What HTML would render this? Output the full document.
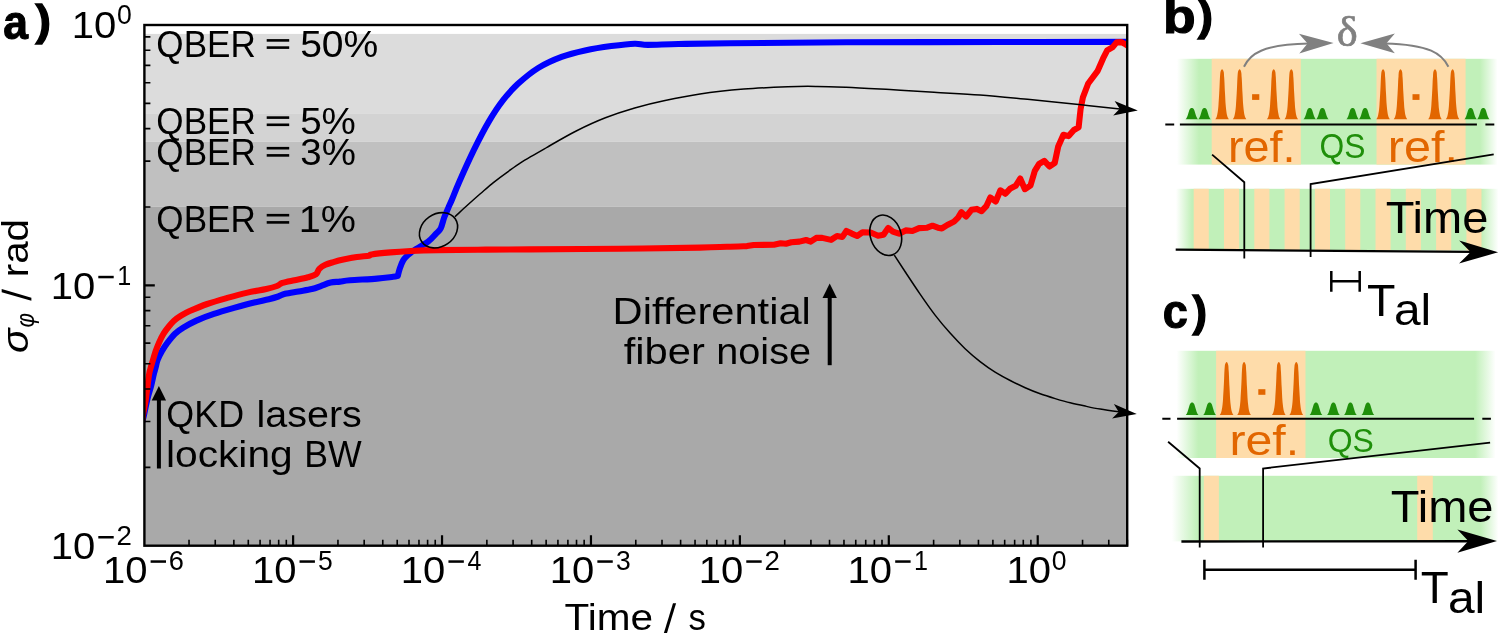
<!DOCTYPE html>
<html><head><meta charset="utf-8"><title>figure</title>
<style>html,body{margin:0;padding:0;background:#fff;overflow:hidden}svg{display:block}text{white-space:pre}</style></head>
<body>
<svg width="1500" height="633" viewBox="0 0 1500 633" style="will-change:transform">
<defs>
<clipPath id="ax"><rect x="144.40" y="25.00" width="982.80" height="520.70"/></clipPath>
</defs>
<rect width="1500" height="633" fill="#fff"/>
<rect x="144.4" y="33.9" width="982.80" height="79.40" fill="#dcdcdc"/>
<rect x="144.4" y="113.3" width="982.80" height="28.40" fill="#d3d3d3"/>
<rect x="144.4" y="141.7" width="982.80" height="65.10" fill="#c0c0c0"/>
<rect x="144.4" y="206.8" width="982.80" height="338.90" fill="#a9a9a9"/>
<g clip-path="url(#ax)" fill="none" stroke-linejoin="round">
<path d="M141.5,425.0 C141.9,423.2 143.1,418.9 144.1,414.5 C145.1,410.1 146.3,403.4 147.5,398.7 C148.7,393.9 150.1,389.9 151.1,386.0 C152.1,382.1 152.9,377.9 153.6,375.0 C154.3,372.1 154.7,371.0 155.4,368.5 C156.1,366.0 156.5,362.9 157.6,360.0 C158.7,357.1 160.2,354.0 161.9,351.1 C163.6,348.2 165.5,345.3 167.7,342.4 C169.9,339.5 172.4,336.2 175.0,333.7 C177.6,331.2 179.7,329.8 183.3,327.6 C186.9,325.4 191.3,322.9 196.4,320.6 C201.5,318.3 207.6,316.0 213.9,313.9 C220.2,311.8 227.3,309.8 234.0,307.9 C240.7,306.0 248.4,303.9 254.2,302.5 C260.0,301.1 264.9,300.2 268.9,299.2 C272.9,298.2 275.6,297.4 278.3,296.5 C281.0,295.6 281.7,294.7 285.1,293.8 C288.5,292.9 294.0,292.2 298.5,291.4 C303.0,290.6 308.1,289.9 311.9,289.0 C315.7,288.1 318.2,286.9 321.3,285.8 C324.4,284.7 327.6,283.3 330.7,282.6 C333.8,281.9 336.8,282.0 340.0,281.6 C343.2,281.2 343.9,280.8 350.1,280.3 C356.3,279.8 369.8,279.2 377.0,278.6 C384.2,278.0 389.6,277.2 393.1,276.8 C396.6,276.4 397.0,276.0 397.8,275.9 L397.8,275.9 C398.1,274.7 398.9,271.1 399.8,268.5 C400.7,265.9 401.9,262.6 403.2,260.4 C404.5,258.2 405.8,257.0 407.9,255.1 C410.0,253.2 412.6,251.2 416.0,249.0 C419.4,246.8 424.8,244.2 428.1,241.6 C431.5,239.0 434.0,235.8 436.1,233.6 C438.2,231.4 439.5,230.9 440.8,228.2 C442.1,225.5 443.0,220.8 444.2,217.5 C445.4,214.2 446.9,211.2 448.2,208.1 C449.5,205.0 450.4,203.3 452.2,199.0 C454.0,194.7 455.6,190.2 459.2,182.0 C462.8,173.8 469.0,159.9 473.9,149.9 C478.8,139.9 483.6,130.4 488.5,122.1 C493.4,113.8 498.2,106.5 503.1,100.2 C508.0,93.9 511.9,89.5 517.7,84.1 C523.6,78.7 530.9,72.5 538.2,68.0 C545.5,63.5 553.8,59.8 561.6,56.9 C569.4,54.0 576.7,52.3 585.0,50.5 C593.3,48.7 603.0,47.2 611.3,46.1 C619.6,45.0 628.6,43.9 634.7,43.7 C640.8,43.5 640.5,44.9 647.8,44.9 C655.1,44.9 664.8,44.3 678.5,44.0 C692.2,43.7 702.1,43.5 730.0,43.2 C757.9,42.9 801.0,42.5 846.0,42.3 C891.0,42.1 953.0,42.1 1000.0,42.0 C1047.0,41.9 1106.7,41.9 1128.0,41.9" stroke="#0000ff" stroke-width="6.1"/>
<path d="M141.8,425.0 C142.0,423.2 142.4,418.9 143.1,414.5 C143.8,410.1 144.9,405.3 145.9,398.7 C146.9,392.1 148.2,380.0 149.0,375.0 C149.8,370.0 149.8,371.0 150.5,368.5 C151.2,366.0 152.1,362.7 153.0,359.8 C153.9,356.9 154.7,354.0 155.7,351.1 C156.7,348.2 157.8,345.3 159.1,342.4 C160.4,339.5 162.0,336.3 163.6,333.7 C165.2,331.1 166.7,329.1 168.4,327.0 C170.1,324.9 171.9,322.7 174.0,320.8 C176.1,318.9 178.4,317.2 181.0,315.6 C183.6,314.0 185.3,312.9 189.7,311.0 C194.1,309.1 200.9,306.2 207.2,304.0 C213.5,301.8 220.6,299.8 227.3,297.9 C234.0,296.0 241.0,294.1 247.5,292.6 C254.0,291.1 261.4,290.1 266.3,289.0 C271.2,287.9 274.3,287.0 277.0,286.0 C279.7,285.0 279.5,283.9 282.4,282.9 C285.3,281.9 290.2,281.1 294.5,280.2 C298.8,279.3 304.3,278.3 307.9,277.3 C311.5,276.3 314.1,275.7 316.0,274.3 C317.9,272.9 317.7,270.4 319.3,268.8 C320.9,267.2 323.0,265.9 325.4,264.8 C327.8,263.7 330.4,263.0 333.4,262.1 C336.4,261.2 339.5,260.3 343.4,259.5 C347.3,258.7 352.6,257.7 356.9,257.1 C361.2,256.5 366.6,256.1 369.0,255.7 C371.4,255.2 368.0,254.9 371.6,254.4 C375.2,253.9 383.9,253.0 390.4,252.4 C396.9,251.8 402.8,251.4 410.6,251.0 C418.5,250.6 426.3,250.3 437.5,250.1 C448.7,249.9 462.3,249.8 477.7,249.7 C493.1,249.6 506.3,249.6 530.0,249.4 C553.7,249.2 591.7,249.0 620.0,248.7 C648.3,248.4 682.2,247.9 700.0,247.6 C717.8,247.3 719.1,246.9 726.9,246.7 C734.7,246.4 743.6,246.2 747.0,246.1 L753.7,245.0 L773.9,244.7 L780.6,243.3 L786.0,243.7 L791.3,242.3 L799.4,241.6 L806.1,240.0 L810.8,241.6 L816.2,237.9 L822.2,237.9 L831.0,239.9 L837.0,236.0 L842.4,236.9 L846.4,230.9 L851.8,233.6 L857.2,236.0 L862.5,232.2 L870.6,232.5 L878.1,235.7 L883.5,234.8 L888.2,227.9 L892.9,231.7 L899.0,233.7 L905.7,230.4 L912.4,231.0 L919.1,228.1 L927.2,227.7 L932.5,225.7 L937.9,227.7 L941.9,228.4 L947.3,225.0 L954.0,221.6 L958.1,217.6 L961.4,212.2 L966.1,216.5 L971.5,209.8 L976.9,208.9 L981.6,211.2 L986.3,206.2 L990.3,197.5 L995.7,201.5 L1000.4,190.3 L1005.4,193.8 L1010.4,188.4 L1015.7,185.8 L1020.2,178.5 L1024.9,189.2 L1030.5,185.5 L1034.8,170.8 L1039.1,163.9 L1044.3,160.9 L1049.5,166.5 L1054.7,163.0 L1058.2,146.5 L1063.4,134.8 L1068.6,136.1 L1073.9,130.0 L1078.6,127.4 L1080.6,109.0 L1082.9,97.4 L1088.2,83.5 L1097.7,70.8 L1103.2,58.2 L1107.2,50.3 L1112.7,47.1 L1116.6,42.4 L1121.4,42.1 L1126.1,44.7 L1128.0,46.0" stroke="#ff0000" stroke-width="6.1"/>
</g>
<path d="M293.12,545.7 v-10.4 M442.04,545.7 v-10.4 M590.96,545.7 v-10.4 M739.88,545.7 v-10.4 M888.80,545.7 v-10.4 M1037.72,545.7 v-10.4 M144.4,285.35 h10.4" stroke="#000" stroke-width="2.2" fill="none"/>
<path d="M189.03,545.7 v-6 M215.25,545.7 v-6 M233.86,545.7 v-6 M248.29,545.7 v-6 M260.08,545.7 v-6 M270.05,545.7 v-6 M278.69,545.7 v-6 M286.31,545.7 v-6 M337.95,545.7 v-6 M364.17,545.7 v-6 M382.78,545.7 v-6 M397.21,545.7 v-6 M409.00,545.7 v-6 M418.97,545.7 v-6 M427.61,545.7 v-6 M435.23,545.7 v-6 M486.87,545.7 v-6 M513.09,545.7 v-6 M531.70,545.7 v-6 M546.13,545.7 v-6 M557.92,545.7 v-6 M567.89,545.7 v-6 M576.53,545.7 v-6 M584.15,545.7 v-6 M635.79,545.7 v-6 M662.01,545.7 v-6 M680.62,545.7 v-6 M695.05,545.7 v-6 M706.84,545.7 v-6 M716.81,545.7 v-6 M725.45,545.7 v-6 M733.07,545.7 v-6 M784.71,545.7 v-6 M810.93,545.7 v-6 M829.54,545.7 v-6 M843.97,545.7 v-6 M855.76,545.7 v-6 M865.73,545.7 v-6 M874.37,545.7 v-6 M881.99,545.7 v-6 M933.63,545.7 v-6 M959.85,545.7 v-6 M978.46,545.7 v-6 M992.89,545.7 v-6 M1004.68,545.7 v-6 M1014.65,545.7 v-6 M1023.29,545.7 v-6 M1030.91,545.7 v-6 M1082.55,545.7 v-6 M1108.77,545.7 v-6 M1127.38,545.7 v-6 M144.4,467.33 h6 M144.4,421.48 h6 M144.4,388.95 h6 M144.4,363.72 h6 M144.4,343.11 h6 M144.4,325.68 h6 M144.4,310.58 h6 M144.4,297.26 h6 M144.4,206.98 h6 M144.4,161.13 h6 M144.4,128.60 h6 M144.4,103.37 h6 M144.4,82.76 h6 M144.4,65.33 h6 M144.4,50.23 h6 M144.4,36.91 h6" stroke="#000" stroke-width="1.6" fill="none"/>
<rect x="144.4" y="25.0" width="982.80" height="520.70" fill="none" stroke="#000" stroke-width="2.4"/>
<text transform="translate(71.70,38.00) scale(1.0582,1.0000)" font-family='"Liberation Sans", sans-serif' font-size="37.8" font-weight="normal" font-style="normal" fill="#000" >10</text>
<text transform="translate(116.94,24.30) scale(0.9705,1.0000)" font-family='"Liberation Sans", sans-serif' font-size="27.404999999999998" font-weight="normal" font-style="normal" fill="#000" >0</text>
<text transform="translate(50.70,298.80) scale(1.0582,1.0000)" font-family='"Liberation Sans", sans-serif' font-size="37.8" font-weight="normal" font-style="normal" fill="#000" >10</text>
<rect x="98.30" y="275.80" width="15.4" height="2.5" fill="#000"/>
<text transform="translate(117.21,285.10) scale(0.9196,1.0000)" font-family='"Liberation Sans", sans-serif' font-size="27.404999999999998" font-weight="normal" font-style="normal" fill="#000" >1</text>
<text transform="translate(50.70,559.00) scale(1.0582,1.0000)" font-family='"Liberation Sans", sans-serif' font-size="37.8" font-weight="normal" font-style="normal" fill="#000" >10</text>
<rect x="98.30" y="536.00" width="15.4" height="2.5" fill="#000"/>
<text transform="translate(116.52,545.30) scale(1.0105,1.0000)" font-family='"Liberation Sans", sans-serif' font-size="27.404999999999998" font-weight="normal" font-style="normal" fill="#000" >2</text>
<text transform="translate(103.00,583.30) scale(1.0582,1.0000)" font-family='"Liberation Sans", sans-serif' font-size="37.8" font-weight="normal" font-style="normal" fill="#000" >10</text>
<rect x="150.60" y="560.30" width="15.4" height="2.5" fill="#000"/>
<text transform="translate(168.84,569.60) scale(0.9941,1.0000)" font-family='"Liberation Sans", sans-serif' font-size="27.404999999999998" font-weight="normal" font-style="normal" fill="#000" >6</text>
<text transform="translate(251.92,583.30) scale(1.0582,1.0000)" font-family='"Liberation Sans", sans-serif' font-size="37.8" font-weight="normal" font-style="normal" fill="#000" >10</text>
<rect x="299.52" y="560.30" width="15.4" height="2.5" fill="#000"/>
<text transform="translate(318.06,569.60) scale(0.9679,1.0000)" font-family='"Liberation Sans", sans-serif' font-size="27.404999999999998" font-weight="normal" font-style="normal" fill="#000" >5</text>
<text transform="translate(400.84,583.30) scale(1.0582,1.0000)" font-family='"Liberation Sans", sans-serif' font-size="37.8" font-weight="normal" font-style="normal" fill="#000" >10</text>
<rect x="448.44" y="560.30" width="15.4" height="2.5" fill="#000"/>
<text transform="translate(467.48,569.60) scale(0.9104,1.0000)" font-family='"Liberation Sans", sans-serif' font-size="27.404999999999998" font-weight="normal" font-style="normal" fill="#000" >4</text>
<text transform="translate(549.76,583.30) scale(1.0582,1.0000)" font-family='"Liberation Sans", sans-serif' font-size="37.8" font-weight="normal" font-style="normal" fill="#000" >10</text>
<rect x="597.36" y="560.30" width="15.4" height="2.5" fill="#000"/>
<text transform="translate(615.97,569.60) scale(0.9679,1.0000)" font-family='"Liberation Sans", sans-serif' font-size="27.404999999999998" font-weight="normal" font-style="normal" fill="#000" >3</text>
<text transform="translate(698.68,583.30) scale(1.0582,1.0000)" font-family='"Liberation Sans", sans-serif' font-size="37.8" font-weight="normal" font-style="normal" fill="#000" >10</text>
<rect x="746.28" y="560.30" width="15.4" height="2.5" fill="#000"/>
<text transform="translate(764.50,569.60) scale(1.0105,1.0000)" font-family='"Liberation Sans", sans-serif' font-size="27.404999999999998" font-weight="normal" font-style="normal" fill="#000" >2</text>
<text transform="translate(847.60,583.30) scale(1.0582,1.0000)" font-family='"Liberation Sans", sans-serif' font-size="37.8" font-weight="normal" font-style="normal" fill="#000" >10</text>
<rect x="895.20" y="560.30" width="15.4" height="2.5" fill="#000"/>
<text transform="translate(914.11,569.60) scale(0.9196,1.0000)" font-family='"Liberation Sans", sans-serif' font-size="27.404999999999998" font-weight="normal" font-style="normal" fill="#000" >1</text>
<text transform="translate(1006.52,583.30) scale(1.0582,1.0000)" font-family='"Liberation Sans", sans-serif' font-size="37.8" font-weight="normal" font-style="normal" fill="#000" >10</text>
<text transform="translate(1051.76,569.60) scale(0.9705,1.0000)" font-family='"Liberation Sans", sans-serif' font-size="27.404999999999998" font-weight="normal" font-style="normal" fill="#000" >0</text>
<text transform="translate(564.39,629.60) scale(1.0732,1.0000)" font-family='"Liberation Sans", sans-serif' font-size="37.8" font-weight="normal" font-style="normal" fill="#000" >Time</text>
<path d="M663.9,633.0 L673.0,603.3 L676.1,603.3 L667.0,633.0 Z" fill="#000"/>
<text transform="translate(688.54,629.60) scale(0.9191,1.0000)" font-family='"Liberation Sans", sans-serif' font-size="37.8" font-weight="normal" font-style="normal" fill="#000" >s</text>
<g transform="translate(28,352.2) rotate(-90)">
<text transform="translate(-0.82,0.00) scale(1.0758,1.0000)" font-family='"Liberation Sans", sans-serif' font-size="37.8" font-weight="normal" font-style="italic" fill="#000" >σ</text>
<text transform="translate(24.72,5.50) scale(0.8398,1.0000)" font-family='"Liberation Sans", sans-serif' font-size="26.459999999999997" font-weight="normal" font-style="italic" fill="#000" >φ</text>
<path d="M51.4,3.4 L60.0,-26.3 L63.1,-26.3 L54.5,3.4 Z" fill="#000"/>
<text transform="translate(74.87,0.00) scale(1.0702,1.0000)" font-family='"Liberation Sans", sans-serif' font-size="37.8" font-weight="normal" font-style="normal" fill="#000" >rad</text>
</g>
<text transform="translate(156.33,56.70) scale(0.9288,1.0000)" font-family='"Liberation Sans", sans-serif' font-size="37.8" font-weight="normal" font-style="normal" fill="#000" >QBER</text>
<rect x="266.7" y="39.10" width="22.5" height="2.6" fill="#000"/><rect x="266.7" y="46.30" width="22.5" height="2.6" fill="#000"/>
<text transform="translate(300.14,56.70) scale(1.0335,1.0000)" font-family='"Liberation Sans", sans-serif' font-size="37.8" font-weight="normal" font-style="normal" fill="#000" >50%</text>
<text transform="translate(156.33,133.90) scale(0.9288,1.0000)" font-family='"Liberation Sans", sans-serif' font-size="37.8" font-weight="normal" font-style="normal" fill="#000" >QBER</text>
<rect x="266.7" y="116.30" width="22.5" height="2.6" fill="#000"/><rect x="266.7" y="123.50" width="22.5" height="2.6" fill="#000"/>
<text transform="translate(300.16,133.90) scale(1.0196,1.0000)" font-family='"Liberation Sans", sans-serif' font-size="37.8" font-weight="normal" font-style="normal" fill="#000" >5%</text>
<text transform="translate(156.33,164.50) scale(0.9288,1.0000)" font-family='"Liberation Sans", sans-serif' font-size="37.8" font-weight="normal" font-style="normal" fill="#000" >QBER</text>
<rect x="266.7" y="146.90" width="22.5" height="2.6" fill="#000"/><rect x="266.7" y="154.10" width="22.5" height="2.6" fill="#000"/>
<text transform="translate(300.26,164.50) scale(1.0177,1.0000)" font-family='"Liberation Sans", sans-serif' font-size="37.8" font-weight="normal" font-style="normal" fill="#000" >3%</text>
<text transform="translate(156.33,231.50) scale(0.9288,1.0000)" font-family='"Liberation Sans", sans-serif' font-size="37.8" font-weight="normal" font-style="normal" fill="#000" >QBER</text>
<rect x="266.7" y="213.90" width="22.5" height="2.6" fill="#000"/><rect x="266.7" y="221.10" width="22.5" height="2.6" fill="#000"/>
<text transform="translate(298.73,231.50) scale(1.0463,1.0000)" font-family='"Liberation Sans", sans-serif' font-size="37.8" font-weight="normal" font-style="normal" fill="#000" >1%</text>
<text transform="translate(166.29,427.20) scale(0.9497,1.0000)" font-family='"Liberation Sans", sans-serif' font-size="37.8" font-weight="normal" font-style="normal" fill="#000" >QKD</text>
<text transform="translate(256.53,427.20) scale(1.0448,1.0000)" font-family='"Liberation Sans", sans-serif' font-size="37.8" font-weight="normal" font-style="normal" fill="#000" >lasers</text>
<text transform="translate(166.05,467.20) scale(1.0759,1.0000)" font-family='"Liberation Sans", sans-serif' font-size="37.8" font-weight="normal" font-style="normal" fill="#000" >locking</text>
<text transform="translate(304.26,467.20) scale(0.9437,1.0000)" font-family='"Liberation Sans", sans-serif' font-size="37.8" font-weight="normal" font-style="normal" fill="#000" >BW</text>
<text transform="translate(612.56,323.90) scale(1.1018,1.0000)" font-family='"Liberation Sans", sans-serif' font-size="37.8" font-weight="normal" font-style="normal" fill="#000" >Differential</text>
<text transform="translate(623.67,363.80) scale(1.1038,1.0000)" font-family='"Liberation Sans", sans-serif' font-size="37.8" font-weight="normal" font-style="normal" fill="#000" >fiber</text>
<text transform="translate(716.33,363.80) scale(1.0478,1.0000)" font-family='"Liberation Sans", sans-serif' font-size="37.8" font-weight="normal" font-style="normal" fill="#000" >noise</text>
<path d="M158.9,468.5 V399.5" stroke="#000" stroke-width="4.0" fill="none"/>
<path d="M158.9,386.1 L166.1,400.5 L151.70000000000002,400.5 Z" fill="#000"/>
<path d="M829.7,365.2 V297.0" stroke="#000" stroke-width="4.0" fill="none"/>
<path d="M829.7,283.6 L836.9000000000001,298.0 L822.5,298.0 Z" fill="#000"/>
<g fill="none" stroke="#000" stroke-width="1.6">
<ellipse cx="438.5" cy="230.3" rx="20.3" ry="16.2" transform="rotate(-34.5 438.5 230.3)"/>
<ellipse cx="885.7" cy="235.3" rx="15.3" ry="20.7" transform="rotate(-19 885.7 235.3)"/>
</g>
<path d="M454.9,216.8 C456.9,215.0 462.6,209.6 466.8,205.8 C471.0,202.0 475.8,197.7 480.3,193.8 C484.8,189.9 489.2,185.9 493.7,182.3 C498.2,178.7 502.6,175.5 507.1,172.3 C511.6,169.1 516.0,165.8 520.5,162.9 C525.0,160.0 529.6,157.4 534.0,154.8 C538.4,152.2 540.0,151.3 547.0,147.3 C554.0,143.3 566.5,135.9 576.2,131.0 C585.9,126.1 595.6,121.6 605.4,117.8 C615.1,114.0 625.0,110.8 634.7,108.0 C644.5,105.2 653.0,103.1 663.9,100.8 C674.8,98.5 686.7,96.0 700.0,94.0 C713.3,92.0 729.3,90.3 743.9,89.1 C758.5,87.9 775.5,87.2 787.7,86.7 C799.9,86.2 807.2,86.3 817.0,86.4 C826.8,86.5 834.0,86.8 846.2,87.3 C858.4,87.8 875.4,88.8 890.0,89.6 C904.6,90.4 919.0,91.4 934.0,92.3 C949.0,93.2 964.0,93.8 980.0,95.0 C996.0,96.2 1013.1,98.0 1030.0,99.6 C1046.8,101.2 1066.1,103.2 1081.1,104.8 C1096.1,106.3 1113.5,108.2 1120.0,108.9" fill="none" stroke="#000" stroke-width="1.5"/>
<path d="M894.3,255.2 C896.1,257.9 900.7,265.0 905.0,271.5 C909.3,278.0 915.1,286.8 920.1,294.1 C925.1,301.4 930.1,308.6 935.1,315.1 C940.1,321.6 945.1,327.5 950.1,333.1 C955.1,338.7 960.1,343.9 965.1,348.7 C970.1,353.4 975.1,357.7 980.1,361.6 C985.1,365.5 990.1,369.0 995.1,372.1 C1000.1,375.2 1005.2,377.9 1010.2,380.5 C1015.2,383.1 1020.2,385.5 1025.2,387.7 C1030.2,389.9 1035.2,392.0 1040.2,393.8 C1045.2,395.6 1050.2,397.1 1055.2,398.6 C1060.2,400.1 1065.2,401.6 1070.2,402.8 C1075.2,404.1 1080.2,405.1 1085.2,406.1 C1090.2,407.2 1094.6,408.2 1100.2,409.1 C1105.8,410.1 1115.9,411.4 1119.0,411.8" fill="none" stroke="#000" stroke-width="1.5"/>
<path transform="translate(1137.8,110.5) rotate(5.5)" d="M0,0 L-24,-7.3 L-18.2,0 L-24,7.3 Z" fill="#000"/>
<path transform="translate(1136.8,414.1) rotate(7.0)" d="M0,0 L-24,-7.3 L-18.2,0 L-24,7.3 Z" fill="#000"/>
<text transform="translate(3.16,38.70) scale(0.9083,1.0000)" font-family='"Liberation Sans", sans-serif' font-size="49.0" font-weight="bold" font-style="normal" fill="#000" stroke="#000" stroke-width="1.1">a</text>
<text transform="translate(35.38,35.25) scale(1.1016,1.0000)" font-family='"Liberation Sans", sans-serif' font-size="42.14477211796246" font-weight="bold" font-style="normal" fill="#000" stroke="#000" stroke-width="1.3">)</text>
<text transform="translate(1163.02,33.30) scale(1.0911,1.0000)" font-family='"Liberation Sans", sans-serif' font-size="49.0" font-weight="bold" font-style="normal" fill="#000" stroke="#000" stroke-width="1.1">b</text>
<text transform="translate(1197.79,30.15) scale(1.0847,1.0000)" font-family='"Liberation Sans", sans-serif' font-size="42.14477211796246" font-weight="bold" font-style="normal" fill="#000" stroke="#000" stroke-width="1.3">)</text>
<text transform="translate(1162.69,328.00) scale(0.9210,1.0000)" font-family='"Liberation Sans", sans-serif' font-size="49.0" font-weight="bold" font-style="normal" fill="#000" stroke="#000" stroke-width="1.1">c</text>
<text transform="translate(1192.59,325.50) scale(1.0391,1.0000)" font-family='"Liberation Sans", sans-serif' font-size="41.93029490616618" font-weight="bold" font-style="normal" fill="#000" stroke="#000" stroke-width="1.3">)</text>
<defs><linearGradient id="g1" gradientUnits="userSpaceOnUse" x1="1177" y1="0" x2="1497.5" y2="0">
<stop offset="0" stop-color="#c1f0b9" stop-opacity="0"/><stop offset="0.0686" stop-color="#c1f0b9" stop-opacity="1"/><stop offset="0.9454" stop-color="#c1f0b9" stop-opacity="1"/><stop offset="1" stop-color="#c1f0b9" stop-opacity="0"/>
</linearGradient></defs>
<rect x="1177" y="58.8" width="320.50" height="105.80" fill="url(#g1)"/>
<rect x="1211.7" y="58.8" width="89.10" height="105.80" fill="#fedcaa"/>
<rect x="1376.5" y="58.8" width="89.10" height="105.80" fill="#fedcaa"/>
<path d="M1215.3,119.3 C1215.5,118.9 1216.3,117.9 1216.6,117.0 C1216.9,116.2 1217.1,115.6 1217.3,114.3 C1217.6,113.0 1217.9,111.2 1218.1,109.3 C1218.3,107.4 1218.5,105.4 1218.6,102.8 C1218.8,100.1 1219.0,96.6 1219.2,93.2 C1219.4,89.9 1219.6,85.5 1219.7,82.7 C1219.8,80.0 1219.9,78.5 1220.0,76.7 C1220.2,75.0 1220.2,73.3 1220.4,72.2 C1220.6,71.1 1221.0,70.5 1221.2,70.0 C1221.5,69.5 1221.8,69.2 1222.1,69.2 C1222.4,69.2 1222.7,69.5 1222.9,70.0 C1223.2,70.5 1223.5,71.1 1223.8,72.2 C1224.0,73.3 1224.0,75.0 1224.1,76.7 C1224.3,78.5 1224.4,80.0 1224.5,82.7 C1224.6,85.5 1224.8,89.9 1225.0,93.2 C1225.2,96.6 1225.4,100.1 1225.5,102.8 C1225.7,105.4 1225.9,107.4 1226.1,109.3 C1226.3,111.2 1226.6,113.0 1226.8,114.3 C1227.1,115.6 1227.3,116.2 1227.6,117.0 C1227.9,117.9 1228.7,118.9 1228.9,119.3 Z" fill="#e26600"/>
<path d="M1232.8,119.3 C1233.0,118.9 1233.8,117.9 1234.1,117.0 C1234.4,116.2 1234.6,115.6 1234.8,114.3 C1235.1,113.0 1235.4,111.2 1235.6,109.3 C1235.8,107.4 1236.0,105.4 1236.1,102.8 C1236.3,100.1 1236.5,96.6 1236.7,93.2 C1236.9,89.9 1237.1,85.5 1237.2,82.7 C1237.3,80.0 1237.4,78.5 1237.5,76.7 C1237.7,75.0 1237.7,73.3 1237.9,72.2 C1238.1,71.1 1238.5,70.5 1238.8,70.0 C1239.0,69.5 1239.3,69.2 1239.6,69.2 C1239.9,69.2 1240.2,69.5 1240.4,70.0 C1240.7,70.5 1241.0,71.1 1241.2,72.2 C1241.5,73.3 1241.5,75.0 1241.6,76.7 C1241.8,78.5 1241.9,80.0 1242.0,82.7 C1242.1,85.5 1242.3,89.9 1242.5,93.2 C1242.7,96.6 1242.9,100.1 1243.0,102.8 C1243.2,105.4 1243.4,107.4 1243.6,109.3 C1243.8,111.2 1244.1,113.0 1244.3,114.3 C1244.6,115.6 1244.8,116.2 1245.1,117.0 C1245.4,117.9 1246.2,118.9 1246.4,119.3 Z" fill="#e26600"/>
<path d="M1266.9,119.3 C1267.1,118.9 1267.9,117.9 1268.2,117.0 C1268.5,116.2 1268.7,115.6 1269.0,114.3 C1269.2,113.0 1269.5,111.2 1269.7,109.3 C1269.9,107.4 1270.1,105.4 1270.2,102.8 C1270.4,100.1 1270.6,96.6 1270.8,93.2 C1271.0,89.9 1271.2,85.5 1271.3,82.7 C1271.4,80.0 1271.5,78.5 1271.7,76.7 C1271.8,75.0 1271.8,73.3 1272.0,72.2 C1272.2,71.1 1272.6,70.5 1272.9,70.0 C1273.1,69.5 1273.4,69.2 1273.7,69.2 C1274.0,69.2 1274.3,69.5 1274.5,70.0 C1274.8,70.5 1275.2,71.1 1275.4,72.2 C1275.6,73.3 1275.6,75.0 1275.8,76.7 C1275.9,78.5 1276.0,80.0 1276.1,82.7 C1276.2,85.5 1276.4,89.9 1276.6,93.2 C1276.8,96.6 1277.0,100.1 1277.2,102.8 C1277.3,105.4 1277.5,107.4 1277.7,109.3 C1277.9,111.2 1278.2,113.0 1278.5,114.3 C1278.7,115.6 1278.9,116.2 1279.2,117.0 C1279.5,117.9 1280.3,118.9 1280.5,119.3 Z" fill="#e26600"/>
<path d="M1284.5,119.3 C1284.7,118.9 1285.5,117.9 1285.8,117.0 C1286.1,116.2 1286.3,115.6 1286.5,114.3 C1286.8,113.0 1287.1,111.2 1287.3,109.3 C1287.5,107.4 1287.7,105.4 1287.8,102.8 C1288.0,100.1 1288.2,96.6 1288.4,93.2 C1288.6,89.9 1288.8,85.5 1288.9,82.7 C1289.0,80.0 1289.1,78.5 1289.2,76.7 C1289.4,75.0 1289.4,73.3 1289.6,72.2 C1289.8,71.1 1290.2,70.5 1290.5,70.0 C1290.7,69.5 1291.0,69.2 1291.3,69.2 C1291.6,69.2 1291.9,69.5 1292.1,70.0 C1292.4,70.5 1292.8,71.1 1293.0,72.2 C1293.2,73.3 1293.2,75.0 1293.3,76.7 C1293.5,78.5 1293.6,80.0 1293.7,82.7 C1293.8,85.5 1294.0,89.9 1294.2,93.2 C1294.4,96.6 1294.6,100.1 1294.8,102.8 C1294.9,105.4 1295.1,107.4 1295.3,109.3 C1295.5,111.2 1295.8,113.0 1296.0,114.3 C1296.3,115.6 1296.5,116.2 1296.8,117.0 C1297.1,117.9 1297.9,118.9 1298.1,119.3 Z" fill="#e26600"/>
<path d="M1376.3,119.3 C1376.5,118.9 1377.3,117.9 1377.6,117.0 C1377.9,116.2 1378.1,115.6 1378.3,114.3 C1378.6,113.0 1378.9,111.2 1379.1,109.3 C1379.3,107.4 1379.5,105.4 1379.6,102.8 C1379.8,100.1 1380.0,96.6 1380.2,93.2 C1380.4,89.9 1380.6,85.5 1380.7,82.7 C1380.8,80.0 1380.9,78.5 1381.0,76.7 C1381.2,75.0 1381.2,73.3 1381.4,72.2 C1381.6,71.1 1382.0,70.5 1382.2,70.0 C1382.5,69.5 1382.8,69.2 1383.1,69.2 C1383.4,69.2 1383.7,69.5 1383.9,70.0 C1384.2,70.5 1384.5,71.1 1384.8,72.2 C1385.0,73.3 1385.0,75.0 1385.1,76.7 C1385.3,78.5 1385.4,80.0 1385.5,82.7 C1385.6,85.5 1385.8,89.9 1386.0,93.2 C1386.2,96.6 1386.4,100.1 1386.5,102.8 C1386.7,105.4 1386.9,107.4 1387.1,109.3 C1387.3,111.2 1387.6,113.0 1387.8,114.3 C1388.1,115.6 1388.3,116.2 1388.6,117.0 C1388.9,117.9 1389.7,118.9 1389.9,119.3 Z" fill="#e26600"/>
<path d="M1393.7,119.3 C1393.9,118.9 1394.7,117.9 1395.0,117.0 C1395.3,116.2 1395.5,115.6 1395.8,114.3 C1396.0,113.0 1396.3,111.2 1396.5,109.3 C1396.7,107.4 1396.9,105.4 1397.0,102.8 C1397.2,100.1 1397.4,96.6 1397.6,93.2 C1397.8,89.9 1398.0,85.5 1398.1,82.7 C1398.2,80.0 1398.3,78.5 1398.5,76.7 C1398.6,75.0 1398.6,73.3 1398.8,72.2 C1399.0,71.1 1399.4,70.5 1399.7,70.0 C1399.9,69.5 1400.2,69.2 1400.5,69.2 C1400.8,69.2 1401.1,69.5 1401.3,70.0 C1401.6,70.5 1402.0,71.1 1402.2,72.2 C1402.4,73.3 1402.4,75.0 1402.5,76.7 C1402.7,78.5 1402.8,80.0 1402.9,82.7 C1403.0,85.5 1403.2,89.9 1403.4,93.2 C1403.6,96.6 1403.8,100.1 1404.0,102.8 C1404.1,105.4 1404.3,107.4 1404.5,109.3 C1404.7,111.2 1405.0,113.0 1405.2,114.3 C1405.5,115.6 1405.7,116.2 1406.0,117.0 C1406.3,117.9 1407.1,118.9 1407.3,119.3 Z" fill="#e26600"/>
<path d="M1428.2,119.3 C1428.4,118.9 1429.2,117.9 1429.5,117.0 C1429.8,116.2 1430.0,115.6 1430.2,114.3 C1430.5,113.0 1430.8,111.2 1431.0,109.3 C1431.2,107.4 1431.4,105.4 1431.5,102.8 C1431.7,100.1 1431.9,96.6 1432.1,93.2 C1432.3,89.9 1432.5,85.5 1432.6,82.7 C1432.7,80.0 1432.8,78.5 1433.0,76.7 C1433.1,75.0 1433.1,73.3 1433.3,72.2 C1433.5,71.1 1433.9,70.5 1434.2,70.0 C1434.4,69.5 1434.7,69.2 1435.0,69.2 C1435.3,69.2 1435.6,69.5 1435.8,70.0 C1436.1,70.5 1436.5,71.1 1436.7,72.2 C1436.9,73.3 1436.9,75.0 1437.0,76.7 C1437.2,78.5 1437.3,80.0 1437.4,82.7 C1437.5,85.5 1437.7,89.9 1437.9,93.2 C1438.1,96.6 1438.3,100.1 1438.5,102.8 C1438.6,105.4 1438.8,107.4 1439.0,109.3 C1439.2,111.2 1439.5,113.0 1439.8,114.3 C1440.0,115.6 1440.2,116.2 1440.5,117.0 C1440.8,117.9 1441.6,118.9 1441.8,119.3 Z" fill="#e26600"/>
<path d="M1445.8,119.3 C1446.0,118.9 1446.8,117.9 1447.1,117.0 C1447.4,116.2 1447.6,115.6 1447.8,114.3 C1448.1,113.0 1448.4,111.2 1448.6,109.3 C1448.8,107.4 1449.0,105.4 1449.1,102.8 C1449.3,100.1 1449.5,96.6 1449.7,93.2 C1449.9,89.9 1450.1,85.5 1450.2,82.7 C1450.3,80.0 1450.4,78.5 1450.5,76.7 C1450.7,75.0 1450.7,73.3 1450.9,72.2 C1451.1,71.1 1451.5,70.5 1451.8,70.0 C1452.0,69.5 1452.3,69.2 1452.6,69.2 C1452.9,69.2 1453.2,69.5 1453.4,70.0 C1453.7,70.5 1454.0,71.1 1454.2,72.2 C1454.5,73.3 1454.5,75.0 1454.6,76.7 C1454.8,78.5 1454.9,80.0 1455.0,82.7 C1455.1,85.5 1455.3,89.9 1455.5,93.2 C1455.7,96.6 1455.9,100.1 1456.0,102.8 C1456.2,105.4 1456.4,107.4 1456.6,109.3 C1456.8,111.2 1457.1,113.0 1457.3,114.3 C1457.6,115.6 1457.8,116.2 1458.1,117.0 C1458.4,117.9 1459.2,118.9 1459.4,119.3 Z" fill="#e26600"/>
<rect x="1252.1" y="94.2" width="7.20" height="5.70" fill="#e26600"/>
<rect x="1412.5" y="94.2" width="7.00" height="5.70" fill="#e26600"/>
<path d="M1185.5,119.3 C1185.6,119.1 1186.0,118.9 1186.3,118.4 C1186.6,117.9 1187.0,117.3 1187.3,116.5 C1187.6,115.7 1187.9,114.6 1188.2,113.7 C1188.5,112.7 1188.8,111.6 1189.1,110.8 C1189.4,110.1 1189.6,109.6 1189.9,109.1 C1190.2,108.7 1190.5,108.4 1190.8,108.2 C1191.1,108.0 1191.5,108.0 1191.8,108.0 C1192.1,108.0 1192.5,108.0 1192.8,108.2 C1193.1,108.4 1193.4,108.7 1193.7,109.1 C1194.0,109.6 1194.2,110.1 1194.5,110.8 C1194.8,111.6 1195.1,112.7 1195.4,113.7 C1195.7,114.6 1196.0,115.7 1196.3,116.5 C1196.6,117.3 1197.0,117.9 1197.3,118.4 C1197.6,118.9 1198.0,119.1 1198.1,119.3 Z" fill="#1f8f0a"/>
<path d="M1198.2,119.3 C1198.3,119.1 1198.7,118.9 1199.0,118.4 C1199.3,117.9 1199.7,117.3 1200.0,116.5 C1200.3,115.7 1200.6,114.6 1200.9,113.7 C1201.2,112.7 1201.5,111.6 1201.8,110.8 C1202.1,110.1 1202.3,109.6 1202.6,109.1 C1202.9,108.7 1203.2,108.4 1203.5,108.2 C1203.8,108.0 1204.2,108.0 1204.5,108.0 C1204.8,108.0 1205.2,108.0 1205.5,108.2 C1205.8,108.4 1206.1,108.7 1206.4,109.1 C1206.7,109.6 1206.9,110.1 1207.2,110.8 C1207.5,111.6 1207.8,112.7 1208.1,113.7 C1208.4,114.6 1208.7,115.7 1209.0,116.5 C1209.3,117.3 1209.7,117.9 1210.0,118.4 C1210.3,118.9 1210.7,119.1 1210.8,119.3 Z" fill="#1f8f0a"/>
<path d="M1303.4,119.3 C1303.5,119.1 1303.9,118.9 1304.2,118.4 C1304.5,117.9 1304.9,117.3 1305.2,116.5 C1305.5,115.7 1305.8,114.6 1306.1,113.7 C1306.4,112.7 1306.7,111.6 1307.0,110.8 C1307.3,110.1 1307.5,109.6 1307.8,109.1 C1308.1,108.7 1308.4,108.4 1308.7,108.2 C1309.0,108.0 1309.4,108.0 1309.7,108.0 C1310.0,108.0 1310.4,108.0 1310.7,108.2 C1311.0,108.4 1311.3,108.7 1311.6,109.1 C1311.9,109.6 1312.1,110.1 1312.4,110.8 C1312.7,111.6 1313.0,112.7 1313.3,113.7 C1313.6,114.6 1313.9,115.7 1314.2,116.5 C1314.5,117.3 1314.9,117.9 1315.2,118.4 C1315.5,118.9 1315.9,119.1 1316.0,119.3 Z" fill="#1f8f0a"/>
<path d="M1316.1,119.3 C1316.2,119.1 1316.6,118.9 1316.9,118.4 C1317.2,117.9 1317.6,117.3 1317.9,116.5 C1318.2,115.7 1318.5,114.6 1318.8,113.7 C1319.1,112.7 1319.4,111.6 1319.7,110.8 C1320.0,110.1 1320.2,109.6 1320.5,109.1 C1320.8,108.7 1321.1,108.4 1321.4,108.2 C1321.7,108.0 1322.1,108.0 1322.4,108.0 C1322.7,108.0 1323.1,108.0 1323.4,108.2 C1323.7,108.4 1324.0,108.7 1324.3,109.1 C1324.6,109.6 1324.8,110.1 1325.1,110.8 C1325.4,111.6 1325.7,112.7 1326.0,113.7 C1326.3,114.6 1326.6,115.7 1326.9,116.5 C1327.2,117.3 1327.6,117.9 1327.9,118.4 C1328.2,118.9 1328.6,119.1 1328.7,119.3 Z" fill="#1f8f0a"/>
<path d="M1346.3,119.3 C1346.4,119.1 1346.8,118.9 1347.1,118.4 C1347.4,117.9 1347.8,117.3 1348.1,116.5 C1348.4,115.7 1348.7,114.6 1349.0,113.7 C1349.3,112.7 1349.6,111.6 1349.9,110.8 C1350.2,110.1 1350.4,109.6 1350.7,109.1 C1351.0,108.7 1351.3,108.4 1351.6,108.2 C1351.9,108.0 1352.3,108.0 1352.6,108.0 C1352.9,108.0 1353.3,108.0 1353.6,108.2 C1353.9,108.4 1354.2,108.7 1354.5,109.1 C1354.8,109.6 1355.0,110.1 1355.3,110.8 C1355.6,111.6 1355.9,112.7 1356.2,113.7 C1356.5,114.6 1356.8,115.7 1357.1,116.5 C1357.4,117.3 1357.8,117.9 1358.1,118.4 C1358.4,118.9 1358.8,119.1 1358.9,119.3 Z" fill="#1f8f0a"/>
<path d="M1358.8,119.3 C1358.9,119.1 1359.3,118.9 1359.6,118.4 C1359.9,117.9 1360.3,117.3 1360.6,116.5 C1360.9,115.7 1361.2,114.6 1361.5,113.7 C1361.8,112.7 1362.1,111.6 1362.4,110.8 C1362.7,110.1 1362.9,109.6 1363.2,109.1 C1363.5,108.7 1363.8,108.4 1364.1,108.2 C1364.4,108.0 1364.8,108.0 1365.1,108.0 C1365.4,108.0 1365.8,108.0 1366.1,108.2 C1366.4,108.4 1366.7,108.7 1367.0,109.1 C1367.3,109.6 1367.5,110.1 1367.8,110.8 C1368.1,111.6 1368.4,112.7 1368.7,113.7 C1369.0,114.6 1369.3,115.7 1369.6,116.5 C1369.9,117.3 1370.3,117.9 1370.6,118.4 C1370.9,118.9 1371.3,119.1 1371.4,119.3 Z" fill="#1f8f0a"/>
<path d="M1464.3,119.3 C1464.4,119.1 1464.8,118.9 1465.1,118.4 C1465.4,117.9 1465.8,117.3 1466.1,116.5 C1466.4,115.7 1466.7,114.6 1467.0,113.7 C1467.3,112.7 1467.6,111.6 1467.9,110.8 C1468.2,110.1 1468.4,109.6 1468.7,109.1 C1469.0,108.7 1469.3,108.4 1469.6,108.2 C1469.9,108.0 1470.3,108.0 1470.6,108.0 C1470.9,108.0 1471.3,108.0 1471.6,108.2 C1471.9,108.4 1472.2,108.7 1472.5,109.1 C1472.8,109.6 1473.0,110.1 1473.3,110.8 C1473.6,111.6 1473.9,112.7 1474.2,113.7 C1474.5,114.6 1474.8,115.7 1475.1,116.5 C1475.4,117.3 1475.8,117.9 1476.1,118.4 C1476.4,118.9 1476.8,119.1 1476.9,119.3 Z" fill="#1f8f0a"/>
<path d="M1477.0,119.3 C1477.1,119.1 1477.5,118.9 1477.8,118.4 C1478.1,117.9 1478.5,117.3 1478.8,116.5 C1479.1,115.7 1479.4,114.6 1479.7,113.7 C1480.0,112.7 1480.3,111.6 1480.6,110.8 C1480.9,110.1 1481.1,109.6 1481.4,109.1 C1481.7,108.7 1482.0,108.4 1482.3,108.2 C1482.6,108.0 1483.0,108.0 1483.3,108.0 C1483.6,108.0 1484.0,108.0 1484.3,108.2 C1484.6,108.4 1484.9,108.7 1485.2,109.1 C1485.5,109.6 1485.7,110.1 1486.0,110.8 C1486.3,111.6 1486.6,112.7 1486.9,113.7 C1487.2,114.6 1487.5,115.7 1487.8,116.5 C1488.1,117.3 1488.5,117.9 1488.8,118.4 C1489.1,118.9 1489.5,119.1 1489.6,119.3 Z" fill="#1f8f0a"/>
<path d="M1165.3,124.5 H1174.2 M1179.9,124.5 H1476.9 M1485.4,124.5 H1494.3" stroke="#000" stroke-width="2" fill="none"/>
<text transform="translate(1227.96,161.50) scale(1.0697,1.0000)" font-family='"Liberation Sans", sans-serif' font-size="43.7" font-weight="normal" font-style="normal" fill="#e26600" >ref.</text>
<text transform="translate(1387.85,161.50) scale(1.1105,1.0000)" font-family='"Liberation Sans", sans-serif' font-size="43.7" font-weight="normal" font-style="normal" fill="#e26600" >ref.</text>
<text transform="translate(1319.49,157.90) scale(0.9084,1.0000)" font-family='"Liberation Sans", sans-serif' font-size="35.0" font-weight="normal" font-style="normal" fill="#1f8f0a" >QS</text>
<defs><linearGradient id="g2" gradientUnits="userSpaceOnUse" x1="1176" y1="0" x2="1498.5" y2="0">
<stop offset="0" stop-color="#c1f0b9" stop-opacity="0"/><stop offset="0.0496" stop-color="#c1f0b9" stop-opacity="1"/><stop offset="0.9473" stop-color="#c1f0b9" stop-opacity="1"/><stop offset="1" stop-color="#c1f0b9" stop-opacity="0"/>
</linearGradient></defs>
<rect x="1176" y="188.8" width="322.50" height="61.70" fill="url(#g2)"/>
<rect x="1193.70" y="188.8" width="15.1" height="61.7" fill="#fedcaa"/>
<rect x="1224.00" y="188.8" width="15.1" height="61.7" fill="#fedcaa"/>
<rect x="1254.30" y="188.8" width="15.1" height="61.7" fill="#fedcaa"/>
<rect x="1284.60" y="188.8" width="15.1" height="61.7" fill="#fedcaa"/>
<rect x="1314.90" y="188.8" width="15.1" height="61.7" fill="#fedcaa"/>
<rect x="1345.20" y="188.8" width="15.1" height="61.7" fill="#fedcaa"/>
<rect x="1375.50" y="188.8" width="15.1" height="61.7" fill="#fedcaa"/>
<rect x="1405.80" y="188.8" width="15.1" height="61.7" fill="#fedcaa"/>
<rect x="1436.10" y="188.8" width="15.1" height="61.7" fill="#fedcaa"/>
<rect x="1466.40" y="188.8" width="15.1" height="61.7" fill="#fedcaa"/>
<path d="M1212.1,154.6 L1244.3,182.2 V258.4 M1493.7,154.3 L1310.6,184.1 V257" stroke="#000" stroke-width="1.8" fill="none"/>
<path d="M1175.7,249.6 L1472,251.9" stroke="#000" stroke-width="2.4" fill="none"/>
<path transform="translate(1498.1,252.3) rotate(0.4)" d="M0,0 L-39,-11.5 L-27.5,0 L-39,11.5 Z" fill="#000"/>
<text transform="translate(1385.64,233.40) scale(1.0786,1.0000)" font-family='"Liberation Sans", sans-serif' font-size="43.6" font-weight="normal" font-style="normal" fill="#000" >Time</text>
<path d="M1331.3,270.9 V291.7 M1359.7,270.9 V291.7 M1331.3,281.3 H1359.7" stroke="#000" stroke-width="2.5" fill="none"/>
<text transform="translate(1366.95,315.90) scale(1.0344,1.0000)" font-family='"Liberation Sans", sans-serif' font-size="45.0" font-weight="normal" font-style="normal" fill="#000" >T</text>
<text transform="translate(1393.96,324.70) scale(1.0725,1.0000)" font-family='"Liberation Sans", sans-serif' font-size="44.7" font-weight="normal" font-style="normal" fill="#000" >al</text>
<path d="M1244,66.7 C1250,54 1262,44.5 1309,43.6" stroke="#808080" stroke-width="2" fill="none"/>
<path transform="translate(1333.6,43.1) rotate(-1)" d="M0,0 L-34.5,-9.9 L-26.0,0 L-34.5,9.9 Z" fill="#808080"/>
<path d="M1448.4,66.7 C1442,54 1430,44.5 1385,43.4" stroke="#808080" stroke-width="2" fill="none"/>
<path transform="translate(1360.4,43.3) rotate(180)" d="M0,0 L-34.5,-9.9 L-26.0,0 L-34.5,9.9 Z" fill="#808080"/>
<text transform="translate(1336.63,46.30) scale(1.0527,1.0000)" font-family='"Liberation Serif", serif' font-size="42.3" font-weight="normal" font-style="normal" fill="#808080" stroke="#808080" stroke-width="0.7">δ</text>
<defs><linearGradient id="g3" gradientUnits="userSpaceOnUse" x1="1176.7" y1="0" x2="1495.6" y2="0">
<stop offset="0" stop-color="#c1f0b9" stop-opacity="0"/><stop offset="0.0677" stop-color="#c1f0b9" stop-opacity="1"/><stop offset="0.9357" stop-color="#c1f0b9" stop-opacity="1"/><stop offset="1" stop-color="#c1f0b9" stop-opacity="0"/>
</linearGradient></defs>
<rect x="1176.7" y="350.8" width="318.90" height="107.20" fill="url(#g3)"/>
<rect x="1216.1" y="350.8" width="89.40" height="107.20" fill="#fedcaa"/>
<path d="M1219.8,414.9 C1220.0,414.5 1220.8,413.4 1221.1,412.5 C1221.4,411.6 1221.6,411.0 1221.8,409.6 C1222.1,408.2 1222.4,406.3 1222.6,404.3 C1222.8,402.3 1223.0,400.2 1223.1,397.4 C1223.3,394.6 1223.5,390.9 1223.7,387.3 C1223.9,383.8 1224.1,379.1 1224.2,376.2 C1224.3,373.3 1224.4,371.7 1224.5,369.8 C1224.7,368.0 1224.7,366.3 1224.9,365.1 C1225.1,363.9 1225.5,363.2 1225.8,362.7 C1226.0,362.2 1226.3,361.9 1226.6,361.9 C1226.9,361.9 1227.2,362.2 1227.4,362.7 C1227.7,363.2 1228.0,363.9 1228.2,365.1 C1228.5,366.3 1228.5,368.0 1228.6,369.8 C1228.8,371.7 1228.9,373.3 1229.0,376.2 C1229.1,379.1 1229.3,383.8 1229.5,387.3 C1229.7,390.9 1229.9,394.6 1230.0,397.4 C1230.2,400.2 1230.4,402.3 1230.6,404.3 C1230.8,406.3 1231.1,408.2 1231.3,409.6 C1231.6,411.0 1231.8,411.6 1232.1,412.5 C1232.4,413.4 1233.2,414.5 1233.4,414.9 Z" fill="#e26600"/>
<path d="M1237.3,414.9 C1237.5,414.5 1238.3,413.4 1238.6,412.5 C1238.9,411.6 1239.1,411.0 1239.3,409.6 C1239.6,408.2 1239.9,406.3 1240.1,404.3 C1240.3,402.3 1240.5,400.2 1240.6,397.4 C1240.8,394.6 1241.0,390.9 1241.2,387.3 C1241.4,383.8 1241.6,379.1 1241.7,376.2 C1241.8,373.3 1241.9,371.7 1242.0,369.8 C1242.2,368.0 1242.2,366.3 1242.4,365.1 C1242.6,363.9 1243.0,363.2 1243.2,362.7 C1243.5,362.2 1243.8,361.9 1244.1,361.9 C1244.4,361.9 1244.7,362.2 1244.9,362.7 C1245.2,363.2 1245.5,363.9 1245.8,365.1 C1246.0,366.3 1246.0,368.0 1246.1,369.8 C1246.3,371.7 1246.4,373.3 1246.5,376.2 C1246.6,379.1 1246.8,383.8 1247.0,387.3 C1247.2,390.9 1247.4,394.6 1247.5,397.4 C1247.7,400.2 1247.9,402.3 1248.1,404.3 C1248.3,406.3 1248.6,408.2 1248.8,409.6 C1249.1,411.0 1249.3,411.6 1249.6,412.5 C1249.9,413.4 1250.7,414.5 1250.9,414.9 Z" fill="#e26600"/>
<path d="M1272.0,414.9 C1272.2,414.5 1273.0,413.4 1273.3,412.5 C1273.6,411.6 1273.8,411.0 1274.0,409.6 C1274.3,408.2 1274.6,406.3 1274.8,404.3 C1275.0,402.3 1275.2,400.2 1275.3,397.4 C1275.5,394.6 1275.7,390.9 1275.9,387.3 C1276.1,383.8 1276.3,379.1 1276.4,376.2 C1276.5,373.3 1276.6,371.7 1276.8,369.8 C1276.9,368.0 1276.9,366.3 1277.1,365.1 C1277.3,363.9 1277.7,363.2 1278.0,362.7 C1278.2,362.2 1278.5,361.9 1278.8,361.9 C1279.1,361.9 1279.4,362.2 1279.6,362.7 C1279.9,363.2 1280.2,363.9 1280.5,365.1 C1280.7,366.3 1280.7,368.0 1280.8,369.8 C1281.0,371.7 1281.1,373.3 1281.2,376.2 C1281.3,379.1 1281.5,383.8 1281.7,387.3 C1281.9,390.9 1282.1,394.6 1282.2,397.4 C1282.4,400.2 1282.6,402.3 1282.8,404.3 C1283.0,406.3 1283.3,408.2 1283.5,409.6 C1283.8,411.0 1284.0,411.6 1284.3,412.5 C1284.6,413.4 1285.4,414.5 1285.6,414.9 Z" fill="#e26600"/>
<path d="M1289.5,414.9 C1289.7,414.5 1290.5,413.4 1290.8,412.5 C1291.1,411.6 1291.3,411.0 1291.5,409.6 C1291.8,408.2 1292.1,406.3 1292.3,404.3 C1292.5,402.3 1292.7,400.2 1292.8,397.4 C1293.0,394.6 1293.2,390.9 1293.4,387.3 C1293.6,383.8 1293.8,379.1 1293.9,376.2 C1294.0,373.3 1294.1,371.7 1294.2,369.8 C1294.4,368.0 1294.4,366.3 1294.6,365.1 C1294.8,363.9 1295.2,363.2 1295.5,362.7 C1295.7,362.2 1296.0,361.9 1296.3,361.9 C1296.6,361.9 1296.9,362.2 1297.1,362.7 C1297.4,363.2 1297.8,363.9 1298.0,365.1 C1298.2,366.3 1298.2,368.0 1298.3,369.8 C1298.5,371.7 1298.6,373.3 1298.7,376.2 C1298.8,379.1 1299.0,383.8 1299.2,387.3 C1299.4,390.9 1299.6,394.6 1299.8,397.4 C1299.9,400.2 1300.1,402.3 1300.3,404.3 C1300.5,406.3 1300.8,408.2 1301.0,409.6 C1301.3,411.0 1301.5,411.6 1301.8,412.5 C1302.1,413.4 1302.9,414.5 1303.1,414.9 Z" fill="#e26600"/>
<rect x="1258.3" y="389.2" width="7.10" height="5.60" fill="#e26600"/>
<path d="M1185.8,414.9 C1185.9,414.7 1186.3,414.4 1186.6,413.9 C1186.9,413.4 1187.3,412.7 1187.6,411.8 C1187.9,411.0 1188.2,409.8 1188.5,408.8 C1188.8,407.7 1189.1,406.5 1189.4,405.7 C1189.7,404.9 1189.9,404.3 1190.2,403.8 C1190.5,403.4 1190.8,403.1 1191.1,402.8 C1191.4,402.6 1191.8,402.6 1192.1,402.6 C1192.4,402.6 1192.8,402.6 1193.1,402.8 C1193.4,403.1 1193.7,403.4 1194.0,403.8 C1194.3,404.3 1194.5,404.9 1194.8,405.7 C1195.1,406.5 1195.4,407.7 1195.7,408.8 C1196.0,409.8 1196.3,411.0 1196.6,411.8 C1196.9,412.7 1197.3,413.4 1197.6,413.9 C1197.9,414.4 1198.3,414.7 1198.4,414.9 Z" fill="#1f8f0a"/>
<path d="M1203.3,414.9 C1203.4,414.7 1203.8,414.4 1204.1,413.9 C1204.4,413.4 1204.8,412.7 1205.1,411.8 C1205.4,411.0 1205.7,409.8 1206.0,408.8 C1206.3,407.7 1206.6,406.5 1206.9,405.7 C1207.2,404.9 1207.4,404.3 1207.7,403.8 C1208.0,403.4 1208.3,403.1 1208.6,402.8 C1208.9,402.6 1209.3,402.6 1209.6,402.6 C1209.9,402.6 1210.3,402.6 1210.6,402.8 C1210.9,403.1 1211.2,403.4 1211.5,403.8 C1211.8,404.3 1212.0,404.9 1212.3,405.7 C1212.6,406.5 1212.9,407.7 1213.2,408.8 C1213.5,409.8 1213.8,411.0 1214.1,411.8 C1214.4,412.7 1214.8,413.4 1215.1,413.9 C1215.4,414.4 1215.8,414.7 1215.9,414.9 Z" fill="#1f8f0a"/>
<path d="M1309.7,414.9 C1309.8,414.7 1310.2,414.4 1310.5,413.9 C1310.8,413.4 1311.2,412.7 1311.5,411.8 C1311.8,411.0 1312.1,409.8 1312.4,408.8 C1312.7,407.7 1313.0,406.5 1313.3,405.7 C1313.6,404.9 1313.8,404.3 1314.1,403.8 C1314.4,403.4 1314.7,403.1 1315.0,402.8 C1315.3,402.6 1315.7,402.6 1316.0,402.6 C1316.3,402.6 1316.7,402.6 1317.0,402.8 C1317.3,403.1 1317.6,403.4 1317.9,403.8 C1318.2,404.3 1318.4,404.9 1318.7,405.7 C1319.0,406.5 1319.3,407.7 1319.6,408.8 C1319.9,409.8 1320.2,411.0 1320.5,411.8 C1320.8,412.7 1321.2,413.4 1321.5,413.9 C1321.8,414.4 1322.2,414.7 1322.3,414.9 Z" fill="#1f8f0a"/>
<path d="M1327.1,414.9 C1327.2,414.7 1327.6,414.4 1327.9,413.9 C1328.2,413.4 1328.6,412.7 1328.9,411.8 C1329.2,411.0 1329.5,409.8 1329.8,408.8 C1330.1,407.7 1330.4,406.5 1330.7,405.7 C1331.0,404.9 1331.2,404.3 1331.5,403.8 C1331.8,403.4 1332.1,403.1 1332.4,402.8 C1332.7,402.6 1333.1,402.6 1333.4,402.6 C1333.7,402.6 1334.1,402.6 1334.4,402.8 C1334.7,403.1 1335.0,403.4 1335.3,403.8 C1335.6,404.3 1335.8,404.9 1336.1,405.7 C1336.4,406.5 1336.7,407.7 1337.0,408.8 C1337.3,409.8 1337.6,411.0 1337.9,411.8 C1338.2,412.7 1338.6,413.4 1338.9,413.9 C1339.2,414.4 1339.6,414.7 1339.7,414.9 Z" fill="#1f8f0a"/>
<path d="M1344.1,414.9 C1344.2,414.7 1344.6,414.4 1344.9,413.9 C1345.2,413.4 1345.6,412.7 1345.9,411.8 C1346.2,411.0 1346.5,409.8 1346.8,408.8 C1347.1,407.7 1347.4,406.5 1347.7,405.7 C1348.0,404.9 1348.2,404.3 1348.5,403.8 C1348.8,403.4 1349.1,403.1 1349.4,402.8 C1349.7,402.6 1350.1,402.6 1350.4,402.6 C1350.7,402.6 1351.1,402.6 1351.4,402.8 C1351.7,403.1 1352.0,403.4 1352.3,403.8 C1352.6,404.3 1352.8,404.9 1353.1,405.7 C1353.4,406.5 1353.7,407.7 1354.0,408.8 C1354.3,409.8 1354.6,411.0 1354.9,411.8 C1355.2,412.7 1355.6,413.4 1355.9,413.9 C1356.2,414.4 1356.6,414.7 1356.7,414.9 Z" fill="#1f8f0a"/>
<path d="M1361.6,414.9 C1361.7,414.7 1362.1,414.4 1362.4,413.9 C1362.7,413.4 1363.1,412.7 1363.4,411.8 C1363.7,411.0 1364.0,409.8 1364.3,408.8 C1364.6,407.7 1364.9,406.5 1365.2,405.7 C1365.5,404.9 1365.7,404.3 1366.0,403.8 C1366.3,403.4 1366.6,403.1 1366.9,402.8 C1367.2,402.6 1367.6,402.6 1367.9,402.6 C1368.2,402.6 1368.6,402.6 1368.9,402.8 C1369.2,403.1 1369.5,403.4 1369.8,403.8 C1370.1,404.3 1370.3,404.9 1370.6,405.7 C1370.9,406.5 1371.2,407.7 1371.5,408.8 C1371.8,409.8 1372.1,411.0 1372.4,411.8 C1372.7,412.7 1373.1,413.4 1373.4,413.9 C1373.7,414.4 1374.1,414.7 1374.2,414.9 Z" fill="#1f8f0a"/>
<path d="M1162.3,418.8 H1170.5 M1177.1,418.8 H1474.1 M1482.3,418.8 H1490.9" stroke="#000" stroke-width="2" fill="none"/>
<text transform="translate(1229.47,454.60) scale(1.1375,1.0000)" font-family='"Liberation Sans", sans-serif' font-size="42.389" font-weight="normal" font-style="normal" fill="#e26600" >ref.</text>
<text transform="translate(1327.68,451.50) scale(0.9394,1.0000)" font-family='"Liberation Sans", sans-serif' font-size="34.0" font-weight="normal" font-style="normal" fill="#1f8f0a" >QS</text>
<defs><linearGradient id="g4" gradientUnits="userSpaceOnUse" x1="1171.9" y1="0" x2="1498.4" y2="0">
<stop offset="0" stop-color="#c1f0b9" stop-opacity="0"/><stop offset="0.0793" stop-color="#c1f0b9" stop-opacity="1"/><stop offset="0.9455" stop-color="#c1f0b9" stop-opacity="1"/><stop offset="1" stop-color="#c1f0b9" stop-opacity="0"/>
</linearGradient></defs>
<rect x="1171.9" y="475.8" width="326.50" height="65.60" fill="url(#g4)"/>
<rect x="1203.8" y="475.8" width="15.10" height="65.6" fill="#fedcaa"/>
<rect x="1417.2" y="475.8" width="15.60" height="65.6" fill="#fedcaa"/>
<path d="M1168.1,441.8 L1199.7,468.5 V547.4 M1490.1,442.7 L1263.1,468.5 V547.4" stroke="#000" stroke-width="1.8" fill="none"/>
<path d="M1181.4,541.5 L1470,541.2" stroke="#000" stroke-width="2.4" fill="none"/>
<path transform="translate(1497.0,541.1) rotate(0)" d="M0,0 L-39.6,-11.6 L-28.7,0 L-39.6,11.6 Z" fill="#000"/>
<text transform="translate(1390.74,521.50) scale(1.0786,1.0000)" font-family='"Liberation Sans", sans-serif' font-size="43.6" font-weight="normal" font-style="normal" fill="#000" >Time</text>
<path d="M1204.4,559.7 V579.7 M1415.6,559.7 V579.7 M1204.4,569.8 H1415.6" stroke="#000" stroke-width="2.5" fill="none"/>
<text transform="translate(1420.87,603.40) scale(1.0514,1.0000)" font-family='"Liberation Sans", sans-serif' font-size="43.6" font-weight="normal" font-style="normal" fill="#000" >T</text>
<text transform="translate(1447.96,612.50) scale(1.0895,1.0000)" font-family='"Liberation Sans", sans-serif' font-size="44.0" font-weight="normal" font-style="normal" fill="#000" >al</text>
</svg>
</body></html>
